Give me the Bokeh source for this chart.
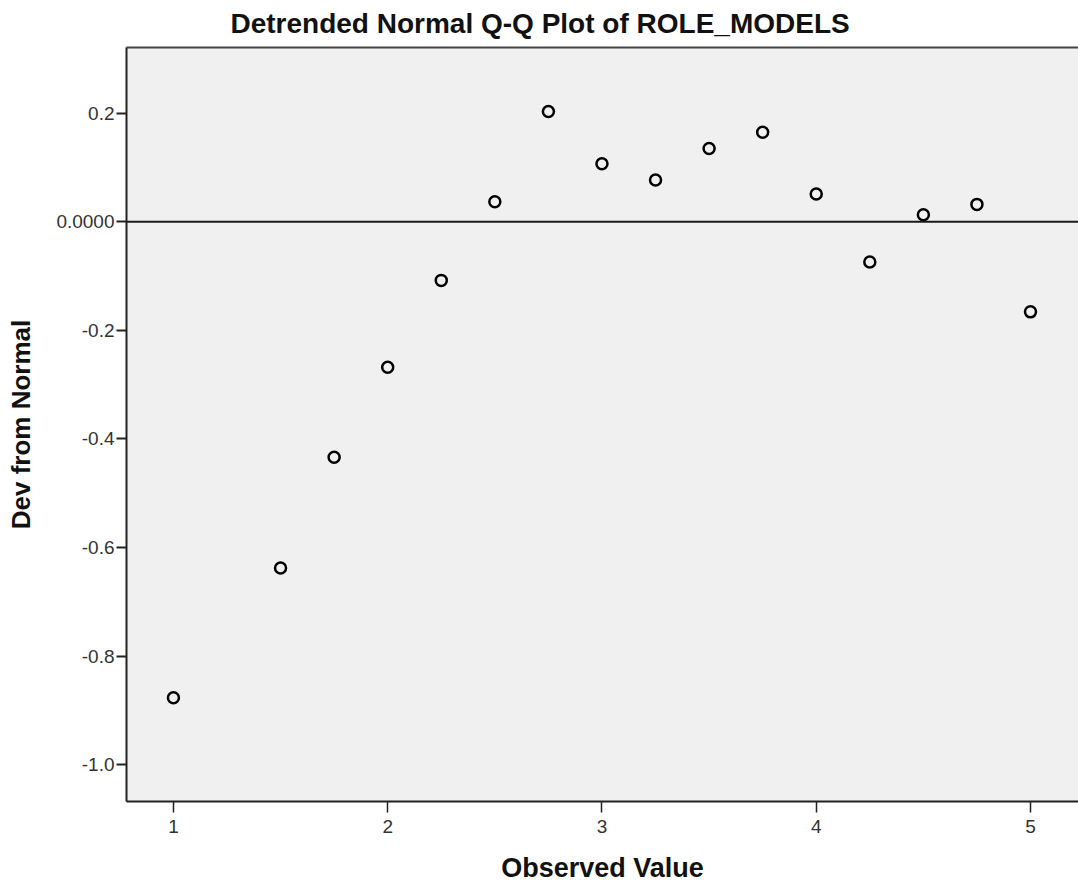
from bokeh.plotting import figure
from bokeh.models import Span, LinearAxis, FixedTicker, Range1d, Title
from bokeh.embed import file_html
from bokeh.resources import INLINE

# ---- data ----
observed = [1.0, 1.5, 1.75, 2.0, 2.25, 2.5, 2.75, 3.0, 3.25, 3.5, 3.75, 4.0, 4.25, 4.5, 4.75, 5.0]
dev_from_normal = [-0.877, -0.638, -0.434, -0.268, -0.108, 0.037, 0.203, 0.107, 0.077,
                   0.135, 0.165, 0.051, -0.074, 0.013, 0.032, -0.166]
x_ticks = [1, 2, 3, 4, 5]
y_ticks = [0.2, 0.0, -0.2, -0.4, -0.6, -0.8, -1.0]
y_tick_labels = ["0.2", "0.0000", "-0.2", "-0.4", "-0.6", "-0.8", "-1.0"]
title_text = "Detrended Normal Q-Q Plot of ROLE_MODELS"
x_label = "Observed Value"
y_label = "Dev from Normal"

FONT = "Liberation Sans"

p = figure(width=1078, height=885, output_backend="svg", toolbar_location=None,
           x_range=Range1d(0.781, 5.224), y_range=Range1d(-1.068, 0.321),
           min_border_left=126, min_border_right=0, min_border_top=46,
           min_border_bottom=84)

p.title = Title(text=title_text, align="left", offset=104, text_font=FONT,
                text_font_size="28px", text_font_style="bold", text_color="#111111",
                standoff=14, vertical_align="top")

p.background_fill_color = "#f0f0f0"
p.border_fill_color = "white"
p.outline_line_color = None
p.xgrid.visible = False
p.ygrid.visible = False

# y axis
ya = p.yaxis[0]
ya.ticker = FixedTicker(ticks=y_ticks)
ya.major_label_overrides = {t: l for t, l in zip(y_ticks, y_tick_labels)}
ya.axis_label = y_label
ya.axis_label_text_font = FONT
ya.axis_label_text_font_size = "26px"
ya.axis_label_text_font_style = "bold"
ya.axis_label_text_color = "#111111"
ya.axis_label_standoff = 17
ya.major_label_text_font = FONT
ya.major_label_text_font_size = "19px"
ya.major_label_text_color = "#333333"
ya.major_label_standoff = 2
ya.major_tick_out = 10
ya.major_tick_in = 0
ya.major_tick_line_color = "#222222"
ya.major_tick_line_width = 2
ya.minor_tick_line_color = None
ya.axis_line_color = "#222222"
ya.axis_line_width = 2

# x axis
xa = p.xaxis[0]
xa.ticker = FixedTicker(ticks=x_ticks)
xa.axis_label = x_label
xa.axis_label_text_font = FONT
xa.axis_label_text_font_size = "27px"
xa.axis_label_text_font_style = "bold"
xa.axis_label_text_color = "#111111"
xa.axis_label_standoff = 17
xa.major_label_text_font = FONT
xa.major_label_text_font_size = "19px"
xa.major_label_text_color = "#333333"
xa.major_label_standoff = 7
xa.major_tick_out = 11
xa.major_tick_in = 0
xa.major_tick_line_color = "#222222"
xa.major_tick_line_width = 1.5
xa.minor_tick_line_color = None
xa.axis_line_color = "#222222"
xa.axis_line_width = 2

# top border of the frame
top = LinearAxis(ticker=FixedTicker(ticks=[]), major_tick_line_color=None,
                 minor_tick_line_color=None, axis_line_color="#444444",
                 axis_line_width=2, major_label_text_font_size="0px")
p.add_layout(top, "above")

# reference line at zero deviation
p.add_layout(Span(location=0, dimension="width", line_color="#1a1a1a", line_width=2))

p.scatter(observed, dev_from_normal, size=11, fill_color=None,
          line_color="black", line_width=2.5)

open("out.html", "w").write(file_html(p, INLINE))
